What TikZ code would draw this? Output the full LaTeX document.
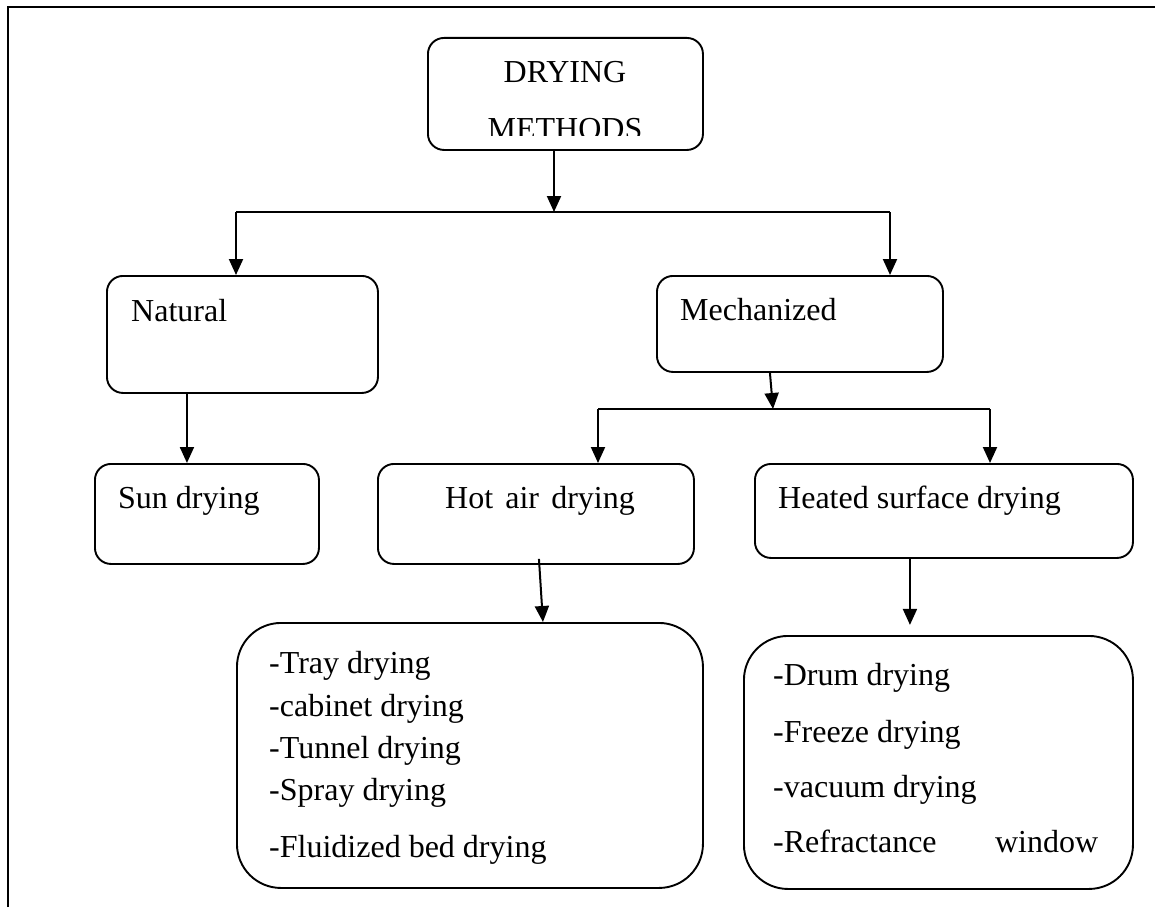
\documentclass[tikz,border=0pt]{standalone}
\usepackage{fontspec}
\setmainfont{Liberation Serif}
\usetikzlibrary{arrows.meta}

\begin{document}
\begin{tikzpicture}[x=1pt, y=-1pt, >={Triangle[length=16pt,width=14pt]},
  box/.style={draw, line width=1.9pt, rounded corners=16pt, inner sep=0pt, anchor=north west},
  listbox/.style={box, rounded corners=44pt},
  txt/.style={inner sep=0pt, font=\fontsize{32}{38}\selectfont},
  link/.style={line width=2pt}]
  \useasboundingbox (0,0) rectangle (1155,907);

  % frame
  \draw[line width=2.2pt] (8,907) -- (8,7) -- (1155,7);

  % boxes
  \node[box, minimum width=275, minimum height=112] (top) at (427,37) {};
  \node[box, minimum width=271, minimum height=117] (nat) at (106,275) {};
  \node[box, minimum width=286, minimum height=96] (mech) at (656,275) {};
  \node[box, minimum width=224, minimum height=100] (sun) at (94,463) {};
  \node[box, minimum width=316, minimum height=100] (hot) at (377,463) {};
  \node[box, minimum width=378, minimum height=94] (heat) at (754,463) {};
  \node[listbox, minimum width=466, minimum height=265] (hotlist) at (236,622) {};
  \node[listbox, minimum width=389, minimum height=253] (heatlist) at (743,635) {};

  % labels
  \node[txt, anchor=base] (topA) at (565,82) {DRYING};
  \begin{scope}
    \clip (427,37) rectangle (702,135);
    \node[txt, anchor=base] (topB) at (565,139) {METHODS};
  \end{scope}
  \node[txt, anchor=base west] (natT) at (131,321) {Natural};
  \node[txt, anchor=base west] (mechT) at (680,320) {Mechanized};
  \node[txt, anchor=base west] (sunT) at (118,508) {Sun drying};
  \node[txt, anchor=base] (hotT) at (540,508) {Hot\hspace{0.38em}air\hspace{0.38em}drying};
  \node[txt, anchor=base west] (heatT) at (778,508) {Heated surface drying};

  \foreach \t/\y [count=\i] in {-Tray drying/673, -cabinet drying/716,
      -Tunnel drying/758, -Spray drying/800, -Fluidized bed drying/857}
    \node[txt, anchor=base west] (hl\i) at (269,\y) {\t};

  \foreach \t/\y [count=\i] in {-Drum drying/685, -Freeze drying/742, -vacuum drying/797}
    \node[txt, anchor=base west] (ml\i) at (773,\y) {\t};
  \node[txt, anchor=base west] (ml4) at (773,852) {\makebox[325pt][l]{-Refractance\hfill window}};

  % connectors
  \coordinate (busA) at (554,212);
  \coordinate (busL) at (236,212);
  \coordinate (busR) at (890,212);
  \draw[link,->] (top.south -| busA) -- (busA);
  \draw[link] (busL) -- (busR);
  \draw[link,->] (busL) -- (busL |- nat.north);
  \draw[link,->] (busR) -- (busR |- mech.north);

  \draw[link,->] ([xshift=-20pt]sun.north |- nat.south) -- ([xshift=-20pt]sun.north);

  \coordinate (busB) at (773,409);
  \coordinate (busBL) at (598,409);
  \coordinate (busBR) at (990,409);
  \draw[link,->] ([xshift=-30pt]mech.south) -- (busB);
  \draw[link] (busBL) -- (busBR);
  \draw[link,->] (busBL) -- (busBL |- hot.north);
  \draw[link,->] (busBR) -- (busBR |- heat.north);

  \draw[link,->] ([xshift=3pt,yshift=6pt]hot.south) -- ([xshift=73pt]hotlist.north);
  \draw[link,->] ([xshift=-34pt]heat.south) -- ++(0,66);
\end{tikzpicture}
\end{document}
